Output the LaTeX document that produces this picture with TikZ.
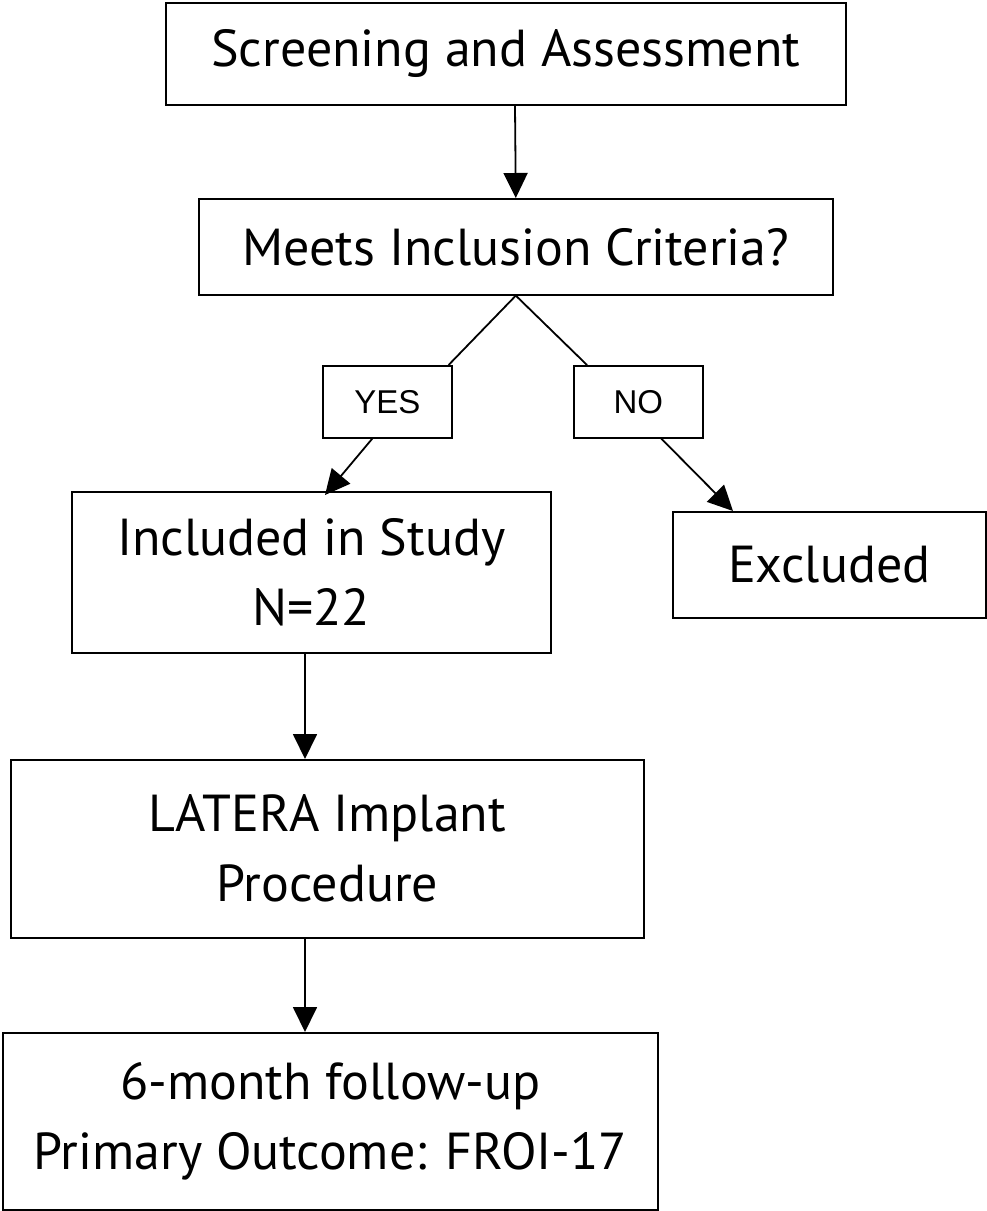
\documentclass[tikz,border=0pt]{standalone}
\usepackage{fontspec}
\setmainfont{PT Sans}
\newfontfamily\arialf{Liberation Sans}
\usetikzlibrary{arrows.meta}
\begin{document}
\begin{tikzpicture}[x=1pt,y=-1pt,
  box/.style={draw=black,line width=1.6pt,anchor=north west,inner sep=0pt,align=center,
    font=\fontsize{52}{70}\selectfont},
  lbl/.style={draw=black,line width=1.6pt,anchor=north west,inner sep=0pt,align=center,
    font=\arialf\fontsize{33}{36}\selectfont},
  conn/.style={line width=1.8pt},
  arr/.style={line width=1.8pt,-{Triangle[width=24pt,length=25pt]}}]
\useasboundingbox (0,0) rectangle (986,1211);
\node[box,minimum width=680pt,minimum height=102pt] (scr) at (165,2) {Screening and Assessment};
\node[box,minimum width=634pt,minimum height=96pt] (meets) at (198,198) {\raisebox{-5pt}{Meets Inclusion Criteria?}};
\node[lbl,minimum width=129pt,minimum height=72pt] (yes) at (322,365) {\raisebox{-5pt}{YES}};
\node[lbl,minimum width=129pt,minimum height=72pt] (no) at (573,365) {\raisebox{-5pt}{NO}};
\node[box,minimum width=479pt,minimum height=161pt] (inc) at (71,491) {Included in Study\\N=22};
\node[box,minimum width=313pt,minimum height=106pt] (exc) at (672,511) {Excluded};
\node[box,minimum width=633pt,minimum height=178pt] (lat) at (10,759) {LATERA Implant\\Procedure};
\node[box,minimum width=655pt,minimum height=177pt] (fu) at (2,1032) {6-month follow-up\\Primary Outcome: FROI-17};
\draw[arr] ([xshift=350pt]scr.south west) -- (meets.north);
\draw[conn] (meets.south) -- ([xshift=-4pt]yes.north east);
\draw[conn] (meets.south) -- ([xshift=14pt]no.north west);
\draw[arr] ([xshift=-15pt]yes.south) -- ([xshift=254pt,yshift=-4pt]inc.north west);
\draw[arr] ([xshift=23pt]no.south) -- ([xshift=61pt]exc.north west);
\draw[arr] ([xshift=234pt]inc.south west) -- ([xshift=295pt]lat.north west);
\draw[arr] ([xshift=295pt]lat.south west) -- ([xshift=303pt]fu.north west);
\end{tikzpicture}
\end{document}
